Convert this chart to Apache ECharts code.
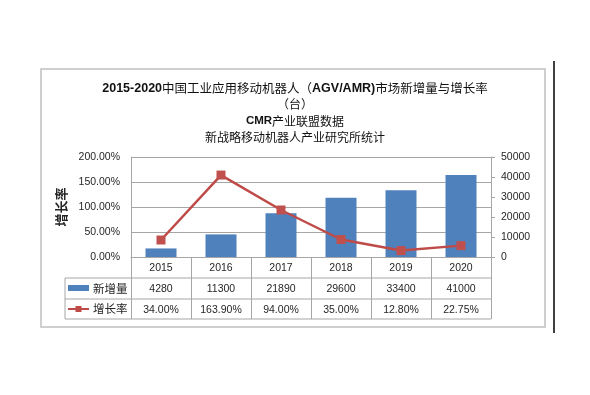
<!DOCTYPE html>
<html>
<head>
<meta charset="utf-8">
<script src="https://cdn.jsdelivr.net/npm/echarts@6/dist/echarts.min.js"></script>
<style>
html,body{margin:0;padding:0;background:#fff;}
#c{width:590px;height:395px;}
</style>
</head>
<body>
<div id="c"></div>
<script>
var categories = ['2015', '2016', '2017', '2018', '2019', '2020'];
var newUnits = [4280, 11300, 21890, 29600, 33400, 41000];
var growthRate = [34.00, 163.90, 94.00, 35.00, 12.80, 22.75];
var rateTicks = [0, 50, 100, 150, 200];
var unitTicks = [0, 10000, 20000, 30000, 40000, 50000];
var seriesNames = ['新增量', '增长率'];
var titleLines = ['2015-2020中国工业应用移动机器人（AGV/AMR)市场新增量与增长率', '（台）', 'CMR产业联盟数据', '新战略移动机器人产业研究所统计'];
var yAxisName = '增长率';

var FONT = '"Liberation Sans", "Noto Sans CJK SC", sans-serif';
var CJK = '"Noto Sans CJK SC", sans-serif';
var BLUE = '#4F81BD';
var RED = '#BE4B48';
var GRID_C = '#A6A6A6';
var TXT = '#262626';

var chart = echarts.init(document.getElementById('c'), null, {renderer: 'canvas'});

var gl = 131, gr = 491, gt = 157, gb = 257;
var rowY = [278, 299, 319];

function catLabel(v) {
  var i = categories.indexOf(v);
  return '{y|' + v + '}\n{y|' + newUnits[i] + '}\n{y|' + growthRate[i].toFixed(2) + '%}';
}

function mixed(line, latinKey, cjkKey) {
  return line.replace(/([\x00-\x7F]+)|([^\x00-\x7F]+)/g, function (m, a, b) {
    return a ? '{' + latinKey + '|' + a + '}' : '{' + cjkKey + '|' + b + '}';
  });
}

var graphics = [
  {type: 'rect', shape: {x: 41, y: 69, width: 504, height: 258}, style: {fill: 'none', stroke: '#C0C0C0', lineWidth: 1.5}, silent: true},
  {type: 'line', shape: {x1: 554, y1: 61, x2: 554, y2: 333}, style: {stroke: '#000', lineWidth: 1.5}},
  {type: 'line', shape: {x1: 65, y1: rowY[0], x2: 65, y2: rowY[2]}, style: {stroke: GRID_C, lineWidth: 1}},
  {type: 'rect', shape: {x: 68, y: 285, width: 21, height: 6}, style: {fill: BLUE}},
  {type: 'text', style: {x: 93, y: 288.5, text: seriesNames[0], font: '11.5px ' + CJK, fill: TXT, textVerticalAlign: 'middle'}},
  {type: 'line', shape: {x1: 68, y1: 309, x2: 89, y2: 309}, style: {stroke: RED, lineWidth: 2}},
  {type: 'rect', shape: {x: 75.5, y: 306, width: 6, height: 6}, style: {fill: RED}},
  {type: 'text', style: {x: 93, y: 309, text: seriesNames[1], font: '11.5px ' + CJK, fill: TXT, textVerticalAlign: 'middle'}}
];
rowY.forEach(function (y) {
  graphics.push({type: 'line', shape: {x1: 65, y1: y, x2: gr, y2: y}, style: {stroke: GRID_C, lineWidth: 1}});
});

var option = {
  animation: false,
  backgroundColor: '#fff',
  title: {
    text: mixed(titleLines[0], 'a', 'an') + '\n{b|' + titleLines[1] + '}\n' + mixed(titleLines[2], 'c', 'cn') + '\n{cn|' + titleLines[3] + '}',
    left: 'center',
    top: 75,
    textStyle: {
      fontWeight: 'normal',
      rich: {
        a: {fontSize: 12.5, fontWeight: 'bold', fontFamily: FONT, color: '#111', lineHeight: 16.5},
        an: {fontSize: 12.5, fontWeight: 'normal', fontFamily: CJK, color: '#111', lineHeight: 16.5},
        b: {fontSize: 12, fontWeight: 'normal', fontFamily: CJK, color: '#111', lineHeight: 16.5},
        c: {fontSize: 11.5, fontWeight: 'bold', fontFamily: FONT, color: '#111', lineHeight: 16.5},
        cn: {fontSize: 12, fontWeight: 'normal', fontFamily: CJK, color: '#111', lineHeight: 16.5}
      }
    }
  },
  grid: {left: gl, right: 590 - gr, top: gt, bottom: 395 - gb, containLabel: false},
  xAxis: {
    type: 'category',
    data: categories,
    boundaryGap: true,
    axisLine: {lineStyle: {color: GRID_C, width: 1}},
    axisTick: {show: true, interval: 0, alignWithLabel: false, length: rowY[2] - gb, lineStyle: {color: GRID_C}},
    axisLabel: {
      interval: 0,
      margin: 1,
      formatter: catLabel,
      rich: {y: {fontSize: 10.5, fontFamily: FONT, color: TXT, lineHeight: 20.7, align: 'center'}}
    }
  },
  yAxis: [
    {
      type: 'value',
      min: rateTicks[0], max: rateTicks[rateTicks.length - 1], interval: 50,
      name: yAxisName,
      nameLocation: 'middle',
      nameRotate: 90,
      nameGap: 56,
      nameTextStyle: {fontSize: 13, fontWeight: 'bold', fontFamily: CJK, color: TXT},
      axisLine: {show: true, lineStyle: {color: GRID_C}},
      axisTick: {show: false},
      axisLabel: {margin: 11, fontSize: 10.5, fontFamily: FONT, color: TXT, formatter: function (v) { return v.toFixed(2) + '%'; }},
      splitLine: {show: true, lineStyle: {color: GRID_C, width: 1}}
    },
    {
      type: 'value',
      min: unitTicks[0], max: unitTicks[unitTicks.length - 1], interval: 10000,
      position: 'right',
      axisLine: {show: true, lineStyle: {color: GRID_C}},
      axisTick: {show: true, length: 4, inside: false, lineStyle: {color: GRID_C}},
      axisLabel: {margin: 10, fontSize: 10.5, fontFamily: FONT, color: TXT, formatter: function (v) { return String(v); }},
      splitLine: {show: false}
    }
  ],
  series: [
    {
      name: seriesNames[0],
      type: 'bar',
      yAxisIndex: 1,
      data: newUnits,
      barWidth: 31,
      itemStyle: {color: BLUE},
      z: 2
    },
    {
      name: seriesNames[1],
      type: 'line',
      yAxisIndex: 0,
      data: growthRate,
      symbol: 'rect',
      symbolSize: 9,
      lineStyle: {color: RED, width: 2.5},
      itemStyle: {color: '#C0504D'},
      z: 3
    }
  ],
  graphic: graphics
};
chart.setOption(option);
</script>
</body>
</html>
